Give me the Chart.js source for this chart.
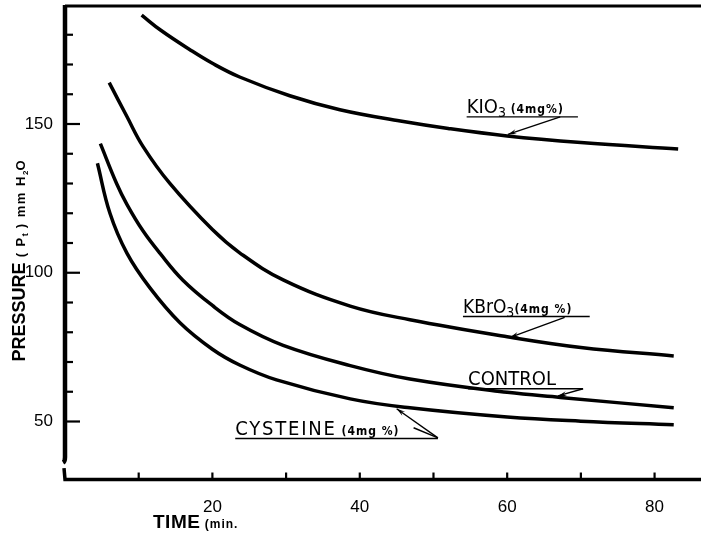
<!DOCTYPE html>
<html>
<head>
<meta charset="utf-8">
<script src="https://cdn.jsdelivr.net/npm/chart.js@4.4.0/dist/chart.umd.min.js"></script>
<style>
  body { margin: 0; background: #fff; }
  #wrap { width: 701px; height: 535px; position: relative; }
</style>
</head>
<body>
<div id="wrap"><canvas id="chart"></canvas></div>
<script>
// values (time in min, pressure in mm H2O)
const kio3Time = [10.4, 13, 17, 20, 23.7, 30.5, 37.3, 45.5, 52, 60, 70, 83.2];
const kio3Pressure = [186.6, 181.5, 174.9, 170.4, 165.8, 159.5, 154.8, 151, 148.5, 146, 143.8, 141.6];

const kbro3Time = [6.0, 8.4, 10.6, 14.2, 20, 23.7, 29.6, 38.7, 46.8, 60, 70, 82.6];
const kbro3Pressure = [163.9, 152.5, 142.4, 130.1, 114.5, 106.7, 97.6, 88.8, 84.2, 78.5, 74.9, 72];

const controlTime = [4.8, 7, 8.4, 10.6, 12.9, 16, 20, 23.7, 29.6, 38.7, 46.8, 60, 67.2, 82.6];
const controlPressure = [143.4, 130, 123, 114, 106.5, 97.5, 89, 82.6, 75.6, 68.8, 64.3, 59.8, 58.1, 54.6];

const cysteineTime = [4.4, 6.1, 8.4, 11.5, 15.6, 20, 23.7, 28.7, 38.7, 46.8, 60, 70, 82.6];
const cysteinePressure = [136.8, 120, 106.6, 95, 83.2, 74.3, 69, 64, 57.6, 54.6, 51.5, 50.1, 48.9];

const xTickLabels = [20, 40, 60, 80];
const yTickLabels = [50, 100, 150];

const labelFont = '"DejaVu Sans Condensed", "DejaVu Sans", sans-serif';
const tickFont = '"Liberation Sans", Arial, sans-serif';

// curve labels, placed in data units; arrows go from label to curve
const curveLabels = [
  {
    at: [54.5, 153.7], line: [54.5, 69.6, 152.4],
    parts: [
      { text: "KIO", font: "20px " + labelFont },
      { text: "3", font: "14px " + labelFont, dy: 4 },
      { text: " (4mg%)", font: "bold 12px " + labelFont, ls: 1 },
    ],
    arrows: [[67.2, 152.4, 60.1, 146.5]],
  },
  {
    at: [54.0, 86.5], line: [54.0, 71.2, 85.3],
    parts: [
      { text: "KBrO", font: "19px " + labelFont },
      { text: "3", font: "14px " + labelFont, dy: 4 },
      { text: "(4mg %)", font: "bold 12px " + labelFont, ls: 1 },
    ],
    arrows: [[67.8, 85.0, 60.4, 78.3]],
  },
  {
    at: [54.7, 62.3], line: [54.7, 70.3, 61.0],
    parts: [{ text: "CONTROL", font: "20px " + labelFont }],
    arrows: [[70.3, 61.0, 66.9, 58.6]],
  },
  {
    at: [23.1, 45.5], line: [23.1, 50.6, 44.3],
    parts: [
      { text: "CYSTEINE", font: "20px " + labelFont, ls: 1.8 },
      { text: " (4mg %)", font: "bold 12px " + labelFont, ls: 1 },
    ],
    arrows: [[50.6, 44.5, 45.0, 54.3]],
    extra: [[47.3, 47.9, 50.6, 44.5]],
  },
];

function toPoints(xs, ys) {
  return xs.map((x, i) => ({ x: x, y: ys[i] }));
}

function drawParts(ctx, x, y, parts) {
  let cx = x;
  parts.forEach((p) => {
    ctx.font = p.font;
    ctx.letterSpacing = (p.ls || 0) + "px";
    ctx.fillText(p.text, cx, y + (p.dy || 0));
    cx += ctx.measureText(p.text).width;
  });
  ctx.letterSpacing = "0px";
  return cx - x;
}

function partsWidth(ctx, parts) {
  let w = 0;
  parts.forEach((p) => {
    ctx.font = p.font;
    ctx.letterSpacing = (p.ls || 0) + "px";
    w += ctx.measureText(p.text).width;
  });
  ctx.letterSpacing = "0px";
  return w;
}

function arrow(ctx, x1, y1, x2, y2) {
  ctx.beginPath();
  ctx.moveTo(x1, y1);
  ctx.lineTo(x2, y2);
  ctx.stroke();
  const a = Math.atan2(y2 - y1, x2 - x1);
  const len = 9, spread = 0.28;
  ctx.beginPath();
  ctx.moveTo(x2, y2);
  ctx.lineTo(x2 - len * Math.cos(a - spread), y2 - len * Math.sin(a - spread));
  ctx.lineTo(x2 - len * 0.6 * Math.cos(a), y2 - len * 0.6 * Math.sin(a));
  ctx.lineTo(x2 - len * Math.cos(a + spread), y2 - len * Math.sin(a + spread));
  ctx.closePath();
  ctx.fill();
}

const decorPlugin = {
  id: "decor",
  afterDraw(chart) {
    const ctx = chart.ctx;
    const xs = chart.scales.x;
    const ys = chart.scales.y;
    const area = chart.chartArea;
    const X = (v) => xs.getPixelForValue(v);
    const Y = (v) => ys.getPixelForValue(v);

    ctx.save();
    ctx.strokeStyle = "#000";
    ctx.fillStyle = "#000";
    ctx.lineCap = "butt";

    // top frame line
    ctx.lineWidth = 3;
    ctx.beginPath();
    ctx.moveTo(area.left, area.top + 1);
    ctx.lineTo(area.right, area.top + 1);
    ctx.stroke();

    // left axis, broken near the bottom
    ctx.lineWidth = 4.5;
    ctx.beginPath();
    ctx.moveTo(X(0), area.top);
    ctx.lineTo(X(0), Y(38));
    ctx.quadraticCurveTo(X(0), Y(36.6), X(0) - 2, Y(36.2));
    ctx.stroke();

    // bottom axis
    ctx.lineWidth = 3.5;
    ctx.beginPath();
    ctx.moveTo(X(0) - 1, Y(34.3));
    ctx.lineTo(X(0), Y(30.5));
    ctx.lineTo(area.right, Y(30.5));
    ctx.stroke();

    // y ticks, pointing inward
    ctx.lineWidth = 2.2;
    for (let v = 50; v <= 180; v += 10) {
      const len = yTickLabels.includes(v) ? 15 : 8;
      ctx.beginPath();
      ctx.moveTo(X(0), Y(v));
      ctx.lineTo(X(0) + len, Y(v));
      ctx.stroke();
    }
    // x ticks, pointing up
    for (let v = 10; v <= 80; v += 10) {
      ctx.beginPath();
      ctx.moveTo(X(v), Y(30.5));
      ctx.lineTo(X(v), Y(30.5) - 7);
      ctx.stroke();
    }

    // curve labels
    ctx.textBaseline = "alphabetic";
    ctx.textAlign = "left";
    curveLabels.forEach((lb) => {
      drawParts(ctx, X(lb.at[0]), Y(lb.at[1]), lb.parts);
      ctx.lineWidth = 1.4;
      ctx.beginPath();
      ctx.moveTo(X(lb.line[0]), Y(lb.line[2]));
      ctx.lineTo(X(lb.line[1]), Y(lb.line[2]));
      ctx.stroke();
      lb.arrows.forEach((a) => arrow(ctx, X(a[0]), Y(a[1]), X(a[2]), Y(a[3])));
      (lb.extra || []).forEach((a) => {
        ctx.beginPath();
        ctx.moveTo(X(a[0]), Y(a[1]));
        ctx.lineTo(X(a[2]), Y(a[3]));
        ctx.stroke();
      });
    });

    // x axis title
    drawParts(ctx, 153, 528, [
      { text: "TIME", font: "bold 19px " + tickFont, ls: 0.5 },
      { text: " (min.", font: "bold 12px " + tickFont, ls: 1 },
    ]);

    // y axis title, rotated
    const yParts = [
      { text: "PRESSURE", font: "bold 18px " + tickFont },
      { text: " ( P", font: "bold 13px " + tickFont, ls: 1.5 },
      { text: "t", font: "bold 9px " + tickFont, dy: 3 },
      { text: " ) mm H", font: "bold 13px " + tickFont, ls: 1.5 },
      { text: "2", font: "bold 8px " + tickFont, dy: 3 },
      { text: "O", font: "bold 13px " + tickFont },
    ];
    const w = partsWidth(ctx, yParts);
    ctx.translate(25, 261);
    ctx.rotate(-Math.PI / 2);
    drawParts(ctx, -w / 2, 0, yParts);

    ctx.restore();
  },
};

const lineStyle = {
  borderColor: "#000",
  borderWidth: 3.5,
  pointRadius: 0,
  fill: false,
  tension: 0.4,
};

new Chart(document.getElementById("chart"), {
  type: "line",
  data: {
    datasets: [
      { label: "KIO3 (4mg%)", data: toPoints(kio3Time, kio3Pressure), ...lineStyle },
      { label: "KBrO3 (4mg%)", data: toPoints(kbro3Time, kbro3Pressure), ...lineStyle },
      { label: "CONTROL", data: toPoints(controlTime, controlPressure), ...lineStyle },
      { label: "CYSTEINE (4mg%)", data: toPoints(cysteineTime, cysteinePressure), ...lineStyle },
    ],
  },
  options: {
    responsive: true,
    maintainAspectRatio: false,
    animation: false,
    layout: { padding: { top: 5, right: 0, left: 0, bottom: 0 } },
    plugins: { legend: { display: false }, tooltip: { enabled: false } },
    scales: {
      x: {
        type: "linear",
        min: 0,
        max: 86.3,
        grid: { display: false },
        border: { display: false },
        afterFit: (s) => {
          s.height = 54;
          s.paddingLeft = 0;
          s.paddingRight = 0;
        },
        ticks: {
          stepSize: 10,
          includeBounds: false,
          autoSkip: false,
          maxRotation: 0,
          padding: 8,
          color: "#000",
          font: { family: tickFont, size: 17 },
          callback: (v) => (xTickLabels.includes(v) ? String(v) : ""),
        },
      },
      y: {
        min: 30,
        max: 190,
        grid: { display: false },
        border: { display: false },
        afterFit: (s) => {
          s.width = 65;
          s.paddingTop = 0;
          s.paddingBottom = 0;
        },
        ticks: {
          stepSize: 10,
          autoSkip: false,
          padding: 4,
          color: "#000",
          font: { family: tickFont, size: 17 },
          callback: (v) => (yTickLabels.includes(v) ? String(v) : ""),
        },
      },
    },
  },
  plugins: [decorPlugin],
});
</script>
</body>
</html>
